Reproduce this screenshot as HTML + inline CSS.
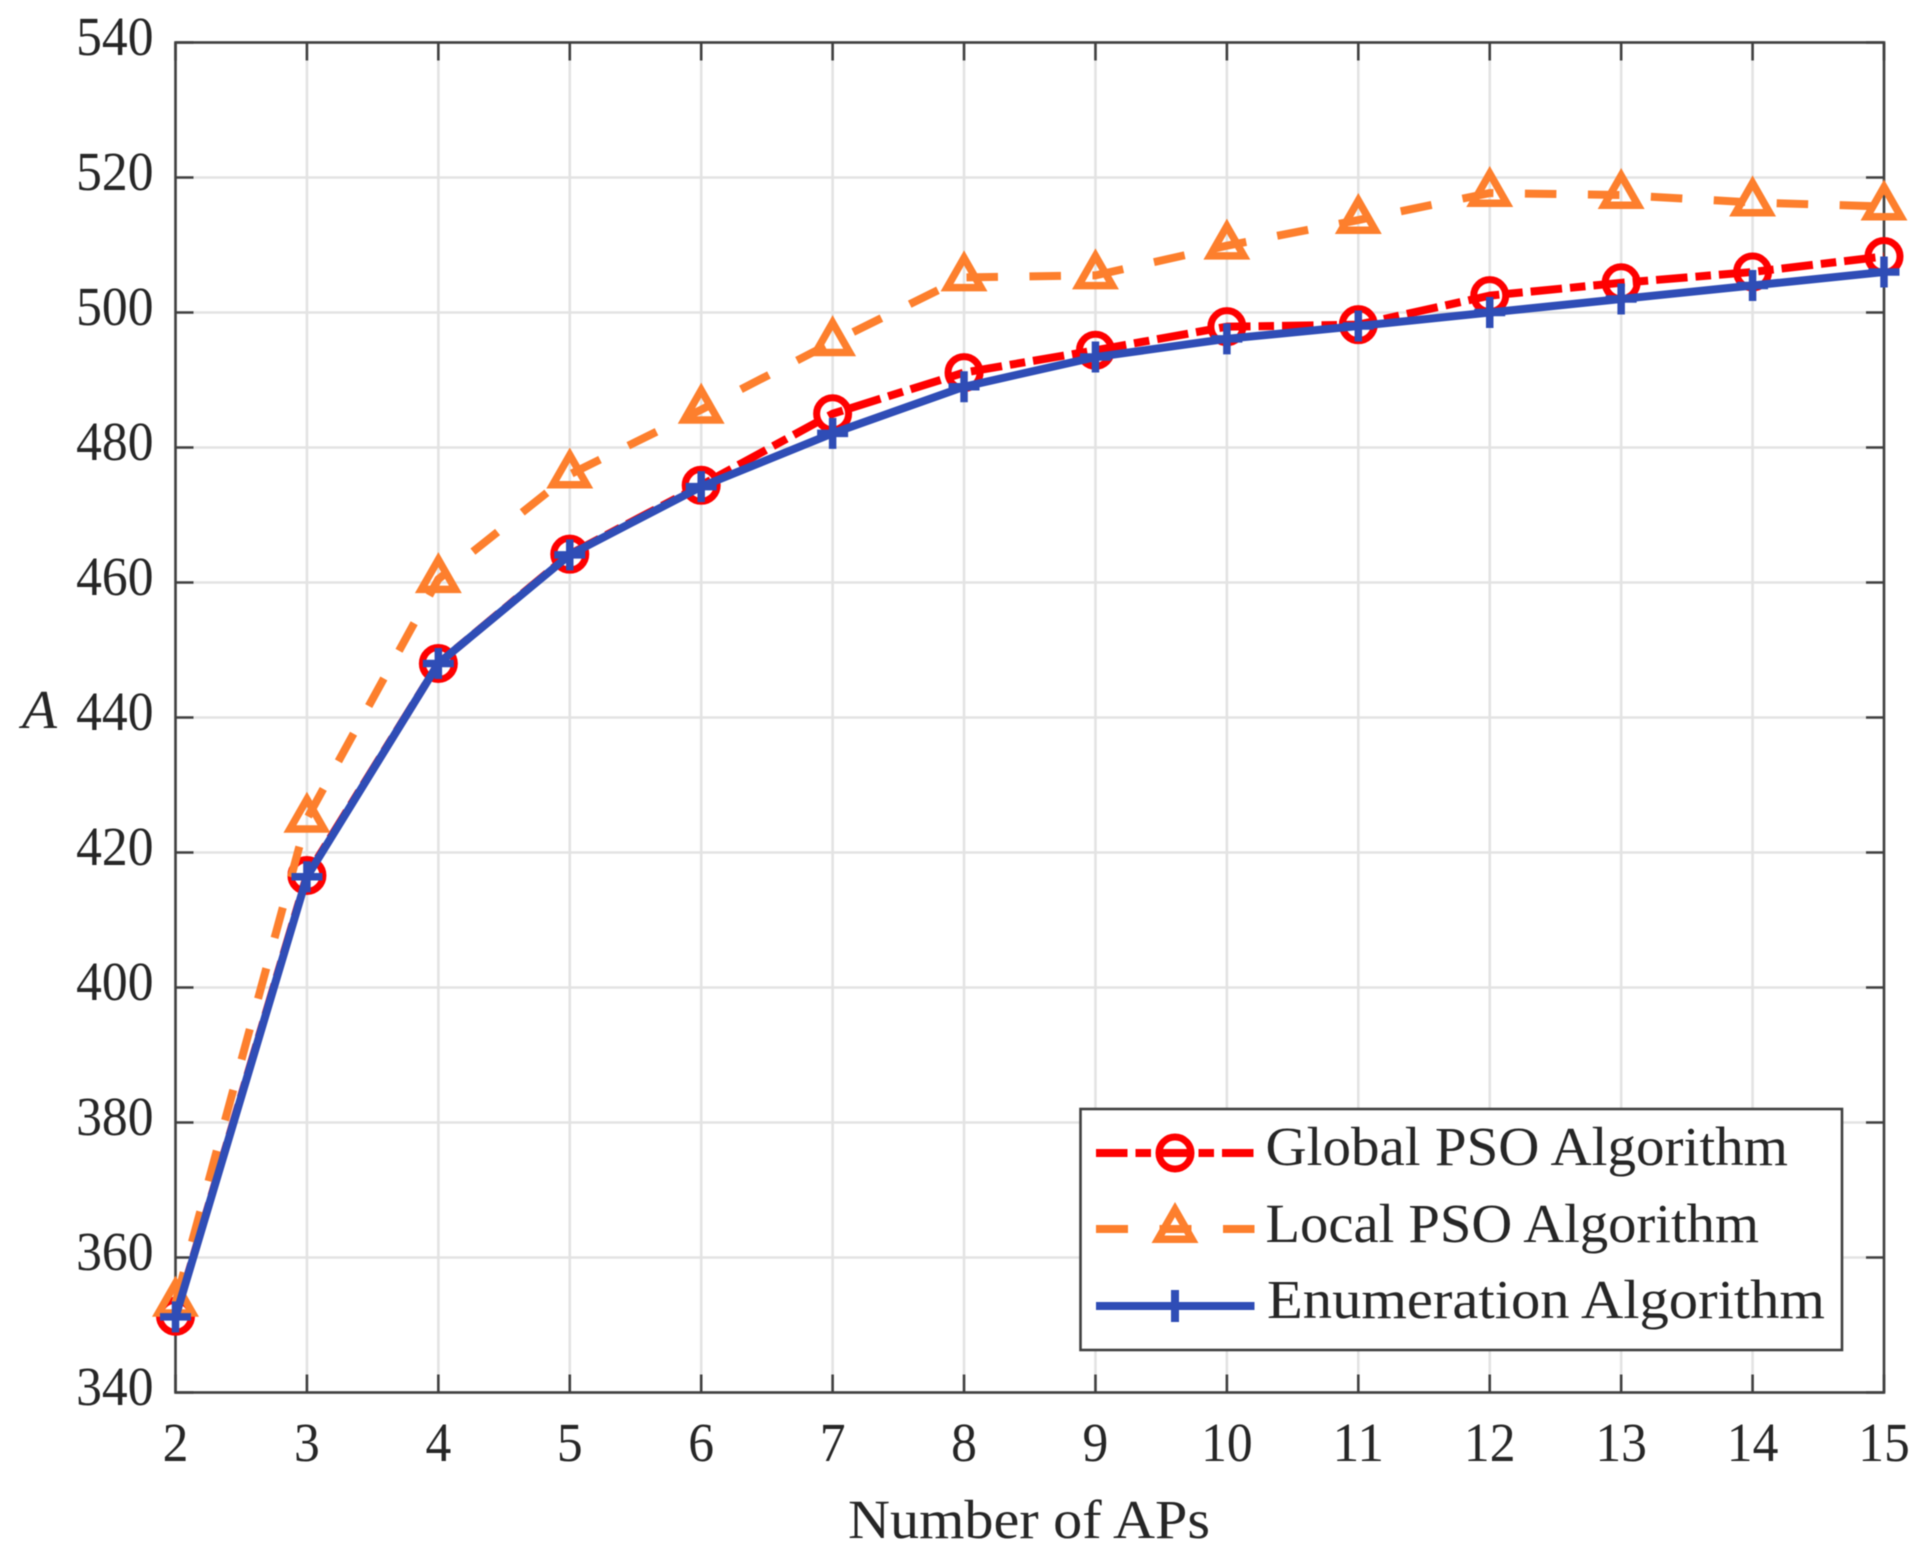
<!DOCTYPE html>
<html lang="en">
<head>
<meta charset="utf-8">
<title>Number of APs vs A</title>
<style>
html,body{margin:0;padding:0;background:#fff;width:1926px;height:1561px;overflow:hidden}
svg{display:block;filter:blur(.55px)}
text{font-family:"Liberation Serif",serif;fill:#262626}
</style>
</head>
<body>
<svg id="chart" xmlns="http://www.w3.org/2000/svg" width="1926" height="1561" viewBox="0 0 1926 1561">
  <rect x="0" y="0" width="1926" height="1561" fill="#fff"/>
  <g id="grid" stroke="#e3e3e3" stroke-width="2.6" fill="none"></g>
  <g id="axes"></g>
  <g id="series"></g>
  <text x="848" y="1538" font-size="55" textLength="362" lengthAdjust="spacingAndGlyphs">Number of APs</text>
  <text x="22" y="728" font-size="55" font-style="italic" textLength="35" lengthAdjust="spacingAndGlyphs">A</text>
  <g>
    <rect x="1080.5" y="1109" width="761.5" height="241" fill="#fff" stroke="#404040" stroke-width="2.6"/>
    <g>
      <line x1="1096" y1="1153" x2="1254.5" y2="1153" stroke="#fe0000" stroke-width="8" stroke-dasharray="31.5 8 15.5 8"/>
      <circle cx="1175" cy="1153" r="16" fill="none" stroke="#fe0000" stroke-width="7"/>
      <text x="1265.5" y="1165" font-size="55" textLength="522.5" lengthAdjust="spacingAndGlyphs">Global PSO Algorithm</text>
    </g>
    <g>
      <line x1="1096" y1="1229" x2="1254.5" y2="1229" stroke="#fd7f2d" stroke-width="8" stroke-dasharray="32 31.5"/>
      <polygon points="1175,1209.5 1192,1239.25 1158,1239.25" fill="none" stroke="#fd7f2d" stroke-width="7.5" stroke-miterlimit="10"/>
      <text x="1265.5" y="1242" font-size="55" textLength="493.5" lengthAdjust="spacingAndGlyphs">Local PSO Algorithm</text>
    </g>
    <g>
      <line x1="1096" y1="1306" x2="1254.5" y2="1306" stroke="#2f4db6" stroke-width="8"/>
      <path d="M1175 1290V1322" fill="none" stroke="#2f4db6" stroke-width="8"/>
      <text x="1267" y="1318" font-size="55" textLength="558" lengthAdjust="spacingAndGlyphs">Enumeration Algorithm</text>
    </g>
  </g>
</svg>
<script>
const categories = [2, 3, 4, 5, 6, 7, 8, 9, 10, 11, 12, 13, 14, 15];
const globalPso = [351.3, 416.6, 448, 464.2, 474.4, 485, 491.1, 494.4, 497.9, 498.2, 502.5, 504.4, 506, 508.3];
const localPso = [353.3, 425, 460.5, 476, 485.6, 495.6, 505.2, 505.5, 509.9, 513.7, 517.7, 517.4, 516.3, 515.7];
const enumeration = [351.2, 416.4, 448, 464.1, 474.2, 482.1, 489, 493.4, 496.1, 498, 500, 502, 504, 506];
const yTickLabels = [340, 360, 380, 400, 420, 440, 460, 480, 500, 520, 540];
const xTickLabels = [2, 3, 4, 5, 6, 7, 8, 9, 10, 11, 12, 13, 14, 15];

const NS = 'http://www.w3.org/2000/svg';
const plot = { left: 175.5, right: 1884, top: 42.5, bottom: 1392.5 };
const domainX = [2, 15];
const domainY = [340, 540];
const TICK = 18;
const DIGIT_WIDTH = 25.8;

function xScale(v) {
  return plot.left + (v - domainX[0]) / (domainX[1] - domainX[0]) * (plot.right - plot.left);
}
function yScale(v) {
  return plot.bottom - (v - domainY[0]) / (domainY[1] - domainY[0]) * (plot.bottom - plot.top);
}
function make(tag, attrs, parent) {
  const el = document.createElementNS(NS, tag);
  for (const k in attrs) el.setAttribute(k, attrs[k]);
  parent.appendChild(el);
  return el;
}

const gridLayer = document.getElementById('grid');
const axesLayer = document.getElementById('axes');
const seriesLayer = document.getElementById('series');
const axisStyle = { stroke: '#404040', 'stroke-width': 2.6, fill: 'none' };

/* grid */
xTickLabels.forEach(function (t) {
  const x = xScale(t);
  const el = make('line', { x1: x, x2: x, y1: plot.top, y2: plot.bottom }, gridLayer);
  
  
});
yTickLabels.forEach(function (t) {
  const y = yScale(t);
  const el = make('line', { x1: plot.left, x2: plot.right, y1: y, y2: y }, gridLayer);
  
  
});

/* axes frame */
const frame = make('rect', Object.assign({ x: plot.left, y: plot.top, width: plot.right - plot.left, height: plot.bottom - plot.top }, axisStyle), axesLayer);



/* x ticks and labels */
xTickLabels.forEach(function (t) {
  const x = xScale(t);
  const bottomTick = make('line', Object.assign({ x1: x, x2: x, y1: plot.bottom, y2: plot.bottom - TICK }, axisStyle), axesLayer);
  
  
  const topTick = make('line', Object.assign({ x1: x, x2: x, y1: plot.top, y2: plot.top + TICK }, axisStyle), axesLayer);
  
  
  const text = String(t);
  const label = make('text', { x: x, y: 1461, 'font-size': 55, 'text-anchor': 'middle', textLength: text.length * DIGIT_WIDTH, lengthAdjust: 'spacingAndGlyphs' }, axesLayer);
  
  
  label.textContent = text;
});

/* y ticks and labels */
yTickLabels.forEach(function (t) {
  const y = yScale(t);
  const leftTick = make('line', Object.assign({ x1: plot.left, x2: plot.left + TICK, y1: y, y2: y }, axisStyle), axesLayer);
  
  
  const rightTick = make('line', Object.assign({ x1: plot.right, x2: plot.right - TICK, y1: y, y2: y }, axisStyle), axesLayer);
  
  
  const text = String(t);
  const label = make('text', { x: 153.5, y: y + 12.5, 'font-size': 55, 'text-anchor': 'end', textLength: text.length * DIGIT_WIDTH, lengthAdjust: 'spacingAndGlyphs' }, axesLayer);
  
  
  label.textContent = text;
});

/* series */
function linePath(values) {
  return values.map(function (v, i) {
    return (i ? 'L' : 'M') + xScale(categories[i]).toFixed(2) + ' ' + yScale(v).toFixed(2);
  }).join(' ');
}

function drawLine(values, color, dash, name) {
  const attrs = { d: linePath(values), fill: 'none', stroke: color, 'stroke-width': 8, 'stroke-linejoin': 'round' };
  if (dash) attrs['stroke-dasharray'] = dash;
  const el = make('path', attrs, seriesLayer);
  
  
}

/* Global PSO: red dash-dot with circles */
drawLine(globalPso, '#fe0000', '31.5 8 15.5 8', 'global-pso-line');
globalPso.forEach(function (v, i) {
  const m = make('circle', { cx: xScale(categories[i]), cy: yScale(v), r: 16, fill: 'none', stroke: '#fe0000', 'stroke-width': 7 }, seriesLayer);
  
  
});

/* Local PSO: orange dashed with triangles */
drawLine(localPso, '#fd7f2d', '31.5 31.5', 'local-pso-line');
localPso.forEach(function (v, i) {
  const cx = xScale(categories[i]);
  const cy = yScale(v);
  const pts = [cx, cy - 19.5, cx + 17, cy + 10.25, cx - 17, cy + 10.25].map(function (n) { return n.toFixed(2); });
  const m = make('polygon', { points: pts.join(' '), fill: 'none', stroke: '#fd7f2d', 'stroke-width': 7.5, 'stroke-miterlimit': 10 }, seriesLayer);
  
  
});

/* Enumeration: blue solid with plus signs */
drawLine(enumeration, '#2f4db6', null, 'enumeration-line');
enumeration.forEach(function (v, i) {
  const cx = xScale(categories[i]);
  const cy = yScale(v);
  const d = 'M' + (cx - 15.5) + ' ' + cy + 'H' + (cx + 15.5) + 'M' + cx + ' ' + (cy - 15.5) + 'V' + (cy + 15.5);
  const m = make('path', { d: d, fill: 'none', stroke: '#2f4db6', 'stroke-width': 7.5 }, seriesLayer);
  
  
});
</script>
</body>
</html>
